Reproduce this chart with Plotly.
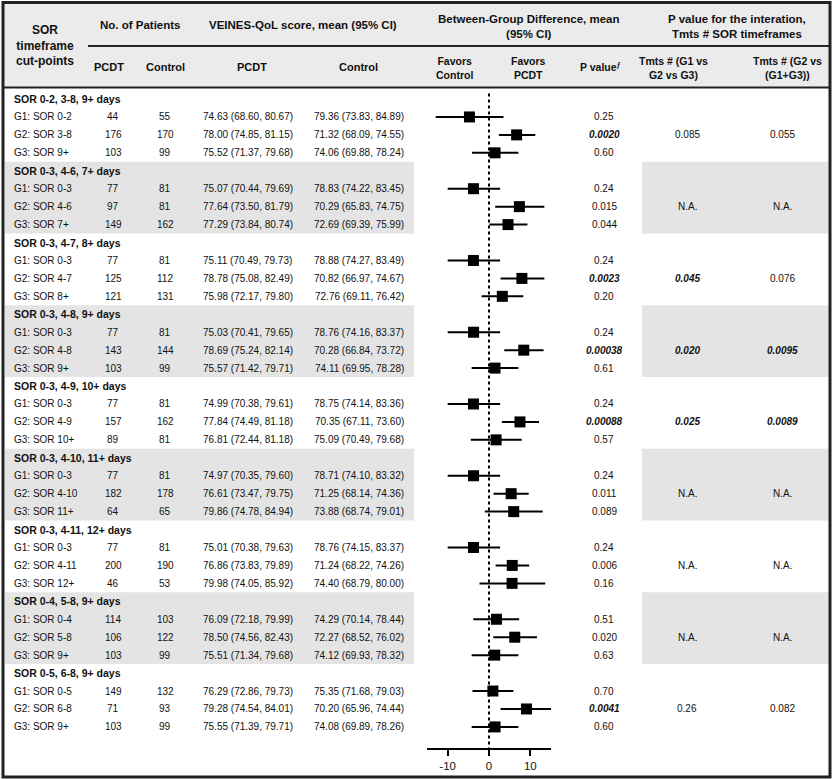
import plotly.graph_objects as go

W, H = 833, 779

section_titles = ["SOR 0-2, 3-8, 9+ days", "SOR 0-3, 4-6, 7+ days", "SOR 0-3, 4-7, 8+ days",
                  "SOR 0-3, 4-8, 9+ days", "SOR 0-3, 4-9, 10+ days", "SOR 0-3, 4-10, 11+ days",
                  "SOR 0-3, 4-11, 12+ days", "SOR 0-4, 5-8, 9+ days", "SOR 0-5, 6-8, 9+ days"]

group_labels = ["G1: SOR 0-2", "G2: SOR 3-8", "G3: SOR 9+",
                "G1: SOR 0-3", "G2: SOR 4-6", "G3: SOR 7+",
                "G1: SOR 0-3", "G2: SOR 4-7", "G3: SOR 8+",
                "G1: SOR 0-3", "G2: SOR 4-8", "G3: SOR 9+",
                "G1: SOR 0-3", "G2: SOR 4-9", "G3: SOR 10+",
                "G1: SOR 0-3", "G2: SOR 4-10", "G3: SOR 11+",
                "G1: SOR 0-3", "G2: SOR 4-11", "G3: SOR 12+",
                "G1: SOR 0-4", "G2: SOR 5-8", "G3: SOR 9+",
                "G1: SOR 0-5", "G2: SOR 6-8", "G3: SOR 9+"]

n_pcdt = [44, 176, 103, 77, 97, 149, 77, 125, 121, 77, 143, 103, 77, 157, 89,
          77, 182, 64, 77, 200, 46, 114, 106, 103, 149, 71, 103]
n_control = [55, 170, 99, 81, 81, 162, 81, 112, 131, 81, 144, 99, 81, 162, 81,
             81, 178, 65, 81, 190, 53, 103, 122, 99, 132, 93, 99]

mean_pcdt = ["74.63 (68.60, 80.67)", "78.00 (74.85, 81.15)", "75.52 (71.37, 79.68)",
             "75.07 (70.44, 79.69)", "77.64 (73.50, 81.79)", "77.29 (73.84, 80.74)",
             "75.11 (70.49, 79.73)", "78.78 (75.08, 82.49)", "75.98 (72.17, 79.80)",
             "75.03 (70.41, 79.65)", "78.69 (75.24, 82.14)", "75.57 (71.42, 79.71)",
             "74.99 (70.38, 79.61)", "77.84 (74.49, 81.18)", "76.81 (72.44, 81.18)",
             "74.97 (70.35, 79.60)", "76.61 (73.47, 79.75)", "79.86 (74.78, 84.94)",
             "75.01 (70.38, 79.63)", "76.86 (73.83, 79.89)", "79.98 (74.05, 85.92)",
             "76.09 (72.18, 79.99)", "78.50 (74.56, 82.43)", "75.51 (71.34, 79.68)",
             "76.29 (72.86, 79.73)", "79.28 (74.54, 84.01)", "75.55 (71.39, 79.71)"]
mean_control = ["79.36 (73.83, 84.89)", "71.32 (68.09, 74.55)", "74.06 (69.88, 78.24)",
                "78.83 (74.22, 83.45)", "70.29 (65.83, 74.75)", "72.69 (69.39, 75.99)",
                "78.88 (74.27, 83.49)", "70.82 (66.97, 74.67)", "72.76 (69.11, 76.42)",
                "78.76 (74.16, 83.37)", "70.28 (66.84, 73.72)", "74.11 (69.95, 78.28)",
                "78.75 (74.14, 83.36)", "70.35 (67.11, 73.60)", "75.09 (70.49, 79.68)",
                "78.71 (74.10, 83.32)", "71.25 (68.14, 74.36)", "73.88 (68.74, 79.01)",
                "78.76 (74.15, 83.37)", "71.24 (68.22, 74.26)", "74.40 (68.79, 80.00)",
                "74.29 (70.14, 78.44)", "72.27 (68.52, 76.02)", "74.12 (69.93, 78.32)",
                "75.35 (71.68, 79.03)", "70.20 (65.96, 74.44)", "74.08 (69.89, 78.26)"]

diff = [-4.73, 6.68, 1.46, -3.76, 7.35, 4.60, -3.77, 7.96, 3.22, -3.73, 8.41, 1.46,
        -3.76, 7.49, 1.72, -3.74, 5.36, 5.98, -3.75, 5.62, 5.58, 1.80, 6.23, 1.39,
        0.94, 9.08, 1.47]
diff_lo = [-12.9, 2.4, -4.1, -10.0, 1.5, 0.1, -10.0, 2.8, -1.8, -10.0, 3.7, -4.2,
           -10.0, 3.1, -4.4, -10.0, 1.1, -1.0, -10.0, 1.6, -2.3, -3.8, 1.05, -4.2,
           -4.0, 2.8, -4.2]
diff_hi = [3.5, 11.2, 7.1, 2.7, 13.4, 9.3, 2.7, 13.4, 8.3, 2.7, 13.2, 7.1,
           2.7, 12.1, 7.9, 2.7, 9.6, 13.0, 2.7, 9.7, 13.6, 7.3, 11.6, 7.1,
           5.9, 15.2, 7.1]

p_values = ["0.25", "0.0020", "0.60", "0.24", "0.015", "0.044", "0.24", "0.0023", "0.20",
            "0.24", "0.00038", "0.61", "0.24", "0.00088", "0.57", "0.24", "0.011", "0.089",
            "0.24", "0.006", "0.16", "0.51", "0.020", "0.63", "0.70", "0.0041", "0.60"]
p_bold = ["0.0020", "0.0023", "0.00038", "0.00088", "0.0041"]

p_int_3groups = ["0.085", "N.A.", "0.045", "0.020", "0.025", "N.A.", "N.A.", "N.A.", "0.26"]
p_int_g2 = ["0.055", "N.A.", "0.076", "0.0095", "0.0089", "N.A.", "N.A.", "N.A.", "0.082"]
p_int_bold = ["0.045", "0.020", "0.0095", "0.025", "0.0089"]

x_ticks = [-10, 0, 10]
x_ticktext = ["-10", "0", "10"]

FONT = "Liberation Sans, Arial, sans-serif"
TXT = "#111111"
BAND = "#e4e4e4"
HEAD = "#ebebeb"


def px(x):
    return x / W


def py(y):
    return 1 - y / H


ROW0 = 99.0
PITCH = 17.94
AXIS_Y = 748.0
HEAD_BOTTOM = 88.0
y_top = (HEAD_BOTTOM - ROW0) / PITCH
y_bot = (AXIS_Y - ROW0) / PITCH

rows = [4 * (g // 3) + 1 + (g % 3) for g in range(len(diff))]

fig = go.Figure()

fig.add_trace(go.Scatter(
    x=diff, y=rows, mode="markers",
    marker=dict(symbol="square", size=11, color="black"),
    error_x=dict(type="data", symmetric=False,
                 array=[h - d for h, d in zip(diff_hi, diff)],
                 arrayminus=[d - l for d, l in zip(diff, diff_lo)],
                 thickness=2, width=0, color="black"),
    showlegend=False, hoverinfo="skip", cliponaxis=False))

shapes = []
annotations = []

# header background
shapes.append(dict(type="rect", xref="paper", yref="paper", x0=px(3), x1=px(830),
                   y0=py(87), y1=py(3), fillcolor=HEAD, line=dict(width=0), layer="below"))
# gray bands
for s in range(len(section_titles)):
    if s % 2 == 1:
        for x0, x1 in [(5, 414), (642, 829)]:
            shapes.append(dict(type="rect", xref="paper", yref="y", x0=px(x0), x1=px(x1),
                               y0=4 * s - 0.5, y1=4 * s + 3.5, fillcolor=BAND,
                               line=dict(width=0), layer="below"))
# header lines
shapes.append(dict(type="line", xref="paper", yref="paper", x0=px(88), x1=px(829),
                   y0=py(46), y1=py(46), line=dict(color="#222", width=2)))
shapes.append(dict(type="line", xref="paper", yref="paper", x0=px(3), x1=px(830),
                   y0=py(87.5), y1=py(87.5), line=dict(color="#222", width=2)))
# outer border
shapes.append(dict(type="rect", xref="paper", yref="paper", x0=px(3), x1=px(830),
                   y0=py(777), y1=py(2.5), line=dict(color="#222", width=3)))
# zero reference line
shapes.append(dict(type="line", xref="x", yref="y", x0=0, x1=0, y0=-0.3, y1=y_bot,
                   line=dict(color="black", width=2, dash="dot")))


def ann(text, x, y, yref="paper", size=10, xanchor="center", bold=False):
    if bold:
        text = "<b>" + text + "</b>"
    annotations.append(dict(text=text, x=px(x), y=(py(y) if yref == "paper" else y),
                            xref="paper", yref=yref, xanchor=xanchor, yanchor="middle",
                            showarrow=False, font=dict(family=FONT, size=size, color=TXT)))


# header text
ann("SOR<br>timeframe<br>cut-points", 45, 46, size=12, bold=True)
ann("No. of Patients", 140, 25, size=11.5, bold=True)
ann("VEINES-QoL score, mean (95% CI)", 303, 25, size=11.5, bold=True)
ann("PCDT", 109, 67, size=11, bold=True)
ann("Control", 165, 67, size=11, bold=True)
ann("PCDT", 252, 67, size=11, bold=True)
ann("Control", 358, 67, size=11, bold=True)
ann("Between-Group Difference, mean<br>(95% CI)", 528, 26, size=11.5, bold=True)
ann("P value for the interation,<br>Tmts # SOR timeframes", 737, 26, size=11.5, bold=True)
ann("Favors<br>Control", 455, 68, size=10.5, bold=True)
ann("Favors<br>PCDT", 528, 68, size=10.5, bold=True)
ann("P value<sup>ƒ</sup>", 600, 67, size=10.5, bold=True)
ann("Tmts # (G1 vs<br>G2 vs G3)", 673, 68, size=10.5, bold=True)
ann("Tmts # (G2 vs<br>(G1+G3))", 787, 68, size=10.5, bold=True)

# body
for s, title in enumerate(section_titles):
    ann(title, 12, 4 * s, yref="y", size=10.5, xanchor="left", bold=True)
    ival = p_int_3groups[s]
    ann("<i>" + ival + "</i>" if ival in p_int_bold else ival, 687, 4 * s + 2, yref="y",
        bold=ival in p_int_bold)
    ival = p_int_g2[s]
    ann("<i>" + ival + "</i>" if ival in p_int_bold else ival, 782, 4 * s + 2, yref="y",
        bold=ival in p_int_bold)

for g, r in enumerate(rows):
    ann(group_labels[g], 12, r, yref="y", xanchor="left")
    ann(str(n_pcdt[g]), 113, r, yref="y")
    ann(str(n_control[g]), 165, r, yref="y")
    ann(mean_pcdt[g], 248, r, yref="y")
    ann(mean_control[g], 359, r, yref="y")
    pv = p_values[g]
    if pv in p_bold:
        ann("<i>" + pv + "</i>", 604, r, yref="y", bold=True)
    else:
        ann(pv, 604, r, yref="y")

fig.update_layout(
    width=W, height=H, margin=dict(l=0, r=0, t=0, b=0),
    paper_bgcolor="white", plot_bgcolor="rgba(0,0,0,0)",
    shapes=shapes, annotations=annotations,
    xaxis=dict(domain=[px(427), px(551)], range=[-15, 15], showgrid=False, zeroline=False,
               showline=True, linecolor="black", linewidth=2, ticks="outside", ticklen=6,
               tickwidth=2, tickcolor="black", tickvals=x_ticks, ticktext=x_ticktext,
               tickfont=dict(family=FONT, size=11.5, color=TXT), fixedrange=True),
    yaxis=dict(domain=[py(AXIS_Y), py(HEAD_BOTTOM)], range=[y_bot, y_top], visible=False,
               showgrid=False, zeroline=False, fixedrange=True),
)

fig.write_html("out.html")
